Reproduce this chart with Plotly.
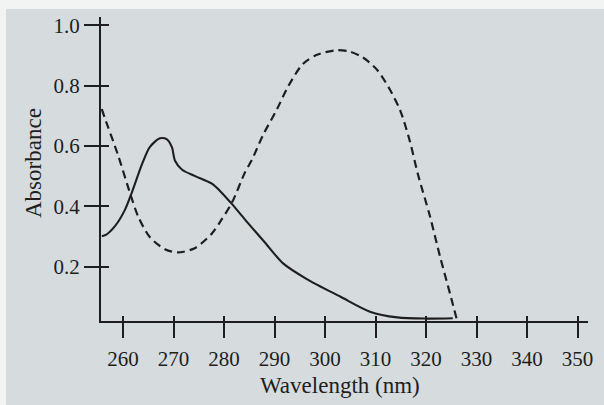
import plotly.graph_objects as go

# ---- data ----
wavelength_solid = [255.8, 256.6, 258.4, 260.4, 261.8, 263.8, 265.3, 267.3, 268.7, 269.7,
                    270.3, 271.7, 274.3, 277.6, 279.2, 281.6, 284.2, 288.1, 291.7, 296.4,
                    303.0, 308.9, 314.3, 320.2, 325.3]
absorbance_solid = [0.301, 0.305, 0.334, 0.389, 0.448, 0.541, 0.596, 0.625, 0.622, 0.595,
                    0.551, 0.521, 0.500, 0.475, 0.451, 0.407, 0.355, 0.280, 0.211, 0.159,
                    0.101, 0.051, 0.032, 0.028, 0.029]

wavelength_dashed = [255.8, 256.4, 259.0, 261.4, 263.0, 265.3, 268.3, 270.9, 274.3, 277.6,
                     279.6, 281.6, 284.2, 285.5, 287.7, 290.5, 292.7, 295.6, 298.4, 302.4,
                     305.0, 307.5, 310.3, 312.9, 314.9, 316.8, 318.4, 320.8, 322.8, 324.8,
                     326.1]
absorbance_dashed = [0.722, 0.692, 0.570, 0.443, 0.366, 0.298, 0.258, 0.247, 0.262, 0.310,
                     0.358, 0.413, 0.514, 0.553, 0.635, 0.722, 0.797, 0.871, 0.902, 0.917,
                     0.912, 0.893, 0.852, 0.785, 0.717, 0.616, 0.506, 0.366, 0.232, 0.108,
                     0.025]

x_ticks = [260, 270, 280, 290, 300, 310, 320, 330, 340, 350]
y_ticks = [0.2, 0.4, 0.6, 0.8, 1.0]
y_tick_labels = ["0.2", "0.4", "0.6", "0.8", "1.0"]

x_title = "Wavelength (nm)"
y_title = "Absorbance"

# ---- styling ----
W, H = 604, 405
L, R, T, B = 101, 16, 17, 84
X_RANGE = [255.64, 352.08]
Y_RANGE = [0.02, 1.027]
INK = "#1e1e1e"
BG = "#d6dbdd"
EDGE = "#f2f4f4"
FONT = "Liberation Serif, Times New Roman, serif"

fig = go.Figure()
fig.add_trace(go.Scatter(x=wavelength_dashed, y=absorbance_dashed, mode="lines",
                         line=dict(color=INK, width=2.2, dash="8px,5px", shape="spline", smoothing=0.8),
                         hoverinfo="skip", showlegend=False))
fig.add_trace(go.Scatter(x=wavelength_solid, y=absorbance_solid, mode="lines",
                         line=dict(color=INK, width=2.1, shape="spline", smoothing=0.8),
                         hoverinfo="skip", showlegend=False))
# invisible trace to host the inner-tick overlay axes
fig.add_trace(go.Scatter(x=[X_RANGE[0]], y=[Y_RANGE[0]], xaxis="x2", yaxis="y2",
                         mode="markers", marker=dict(opacity=0), hoverinfo="skip", showlegend=False))

pw = W - L - R
ph = H - T - B

def px(xp):
    return (xp - L) / pw

def py(yp):
    return (H - B - yp) / ph

fig.update_layout(
    width=W, height=H,
    margin=dict(l=L, r=R, t=T, b=B),
    paper_bgcolor=BG, plot_bgcolor=BG,
    showlegend=False,
    font=dict(family=FONT, color=INK),
    xaxis=dict(range=X_RANGE, tickvals=x_ticks, ticktext=[str(v) for v in x_ticks],
               ticks="outside", ticklen=15, tickwidth=2, tickcolor=INK,
               showline=True, linewidth=2, linecolor=INK, showgrid=False, zeroline=False,
               tickfont=dict(family=FONT, size=21, color=INK), ticklabelstandoff=3),
    yaxis=dict(range=Y_RANGE, tickvals=y_ticks, ticktext=y_tick_labels,
               ticks="outside", ticklen=15, tickwidth=2, tickcolor=INK,
               showline=True, linewidth=2, linecolor=INK, showgrid=False, zeroline=False,
               tickfont=dict(family=FONT, size=21, color=INK)),
    xaxis2=dict(range=X_RANGE, overlaying="x", anchor="y2", side="bottom", tickvals=x_ticks,
                ticks="inside", ticklen=5, tickwidth=2, tickcolor=INK, showticklabels=False,
                showline=False, showgrid=False, zeroline=False),
    yaxis2=dict(range=Y_RANGE, overlaying="y", anchor="x2", side="left", tickvals=y_ticks,
                ticks="inside", ticklen=8, tickwidth=2, tickcolor=INK, showticklabels=False,
                showline=False, showgrid=False, zeroline=False),
    annotations=[
        dict(text=x_title, xref="paper", yref="paper", x=px(340), y=py(385),
             xanchor="center", yanchor="middle", showarrow=False,
             font=dict(family=FONT, size=23, color=INK)),
        dict(text=y_title, xref="paper", yref="paper", x=px(33), y=py(163),
             xanchor="center", yanchor="middle", showarrow=False, textangle=-90,
             font=dict(family=FONT, size=23, color=INK)),
    ],
    shapes=[
        dict(type="rect", xref="paper", yref="paper", x0=px(-2), x1=px(6), y0=py(H + 2), y1=py(-2),
             fillcolor=EDGE, line=dict(width=0), layer="above"),
        dict(type="rect", xref="paper", yref="paper", x0=px(-2), x1=px(W + 2), y0=py(9), y1=py(-2),
             fillcolor=EDGE, line=dict(width=0), layer="above"),
    ],
)

fig.write_html("out.html", config={"displayModeBar": False, "staticPlot": True},
               post_script="document.body.style.margin='0';document.body.style.overflow='hidden';")
